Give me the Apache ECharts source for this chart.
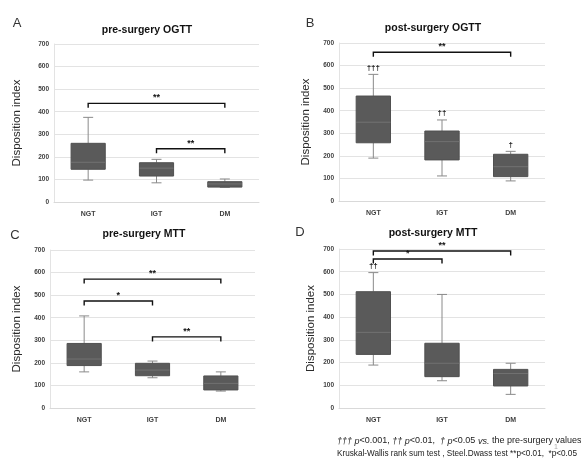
<!DOCTYPE html>
<html><head><meta charset="utf-8">
<script src="https://cdn.jsdelivr.net/npm/echarts@6/dist/echarts.min.js"></script>
<style>html,body{margin:0;padding:0;background:#fff}#c{width:581px;height:463px}</style>
</head><body><div id="c"></div>
<script>
// ---- data ----
var categories = ['NGT', 'IGT', 'DM'];
var yTicks = [0, 100, 200, 300, 400, 500, 600, 700];
// [min, Q1, median, Q3, max]
var preOGTT  = [[97,145,176,260,375],[85,115,150,174,189],[65,66,80,90,102]];
var postOGTT = [[190,258,349,465,561],[111,182,263,310,359],[89,108,152,207,220]];
var preMTT   = [[160,188,217,286,408],[134,143,168,198,208],[75,80,109,142,160]];
var postMTT  = [[189,236,333,512,596],[120,138,197,285,500],[60,97,152,170,197]];
// daggers above whiskers (vs. pre-surgery)
var preOGTTDaggers  = ['', '', ''];
var postOGTTDaggers = ['†††', '††', '†'];
var preMTTDaggers   = ['', '', ''];
var postMTTDaggers  = ['††', '', ''];
// significance brackets: [fromIndex, toIndex, value, label]
var preOGTTBrackets  = [[0,2,437,'**'],[1,2,236,'**']];
var postOGTTBrackets = [[0,2,659,'**']];
var preMTTBrackets   = [[0,2,571,'**'],[0,1,474,'*'],[1,2,315,'**']];
var postMTTBrackets  = [[0,2,691,'**'],[0,1,656,'*']];
var titles = ['pre-surgery OGTT','post-surgery OGTT','pre-surgery MTT','post-surgery MTT'];
var panelLetters = ['A','B','C','D'];
var yName = 'Disposition index';

// ---- layout ----
var panels = [
  {box: preOGTT,  dag: preOGTTDaggers,  br: preOGTTBrackets,  grid:{left:54, top:44, width:205, height:158}, gap:31},
  {box: postOGTT, dag: postOGTTDaggers, br: postOGTTBrackets, grid:{left:339,top:43, width:206, height:158}, gap:27},
  {box: preMTT,   dag: preMTTDaggers,   br: preMTTBrackets,   grid:{left:50, top:250,width:205, height:158}, gap:27},
  {box: postMTT,  dag: postMTTDaggers,  br: postMTTBrackets,  grid:{left:339,top:249,width:206, height:159}, gap:22}
];
var FONT = '"Liberation Sans", Arial, sans-serif';

var grids = [], xAxes = [], yAxes = [], series = [];
panels.forEach(function (p, i) {
  grids.push(p.grid);
  xAxes.push({
    type: 'category', data: categories, gridIndex: i,
    axisLine: {show: true, lineStyle: {color: '#d9d9d9'}},
    axisTick: {show: false},
    axisLabel: {fontSize: 7, fontWeight: 'bold', color: '#404040', margin: 9, fontFamily: FONT}
  });
  yAxes.push({
    type: 'value', gridIndex: i, min: 0, max: 700, interval: 100,
    axisLine: {show: true, lineStyle: {color: '#e3e3e3'}},
    axisTick: {show: false},
    splitLine: {lineStyle: {color: '#e3e3e3'}},
    axisLabel: {fontSize: 6.5, fontWeight: 'bold', color: '#404040', margin: 5, fontFamily: FONT,
      formatter: function (v) { return yTicks.indexOf(v) >= 0 ? String(v) : ''; }},
    name: yName, nameLocation: 'middle', nameGap: p.gap,
    nameTextStyle: {fontSize: 11.5, color: '#2a2a2a', fontFamily: FONT}
  });
  // boxes
  series.push({
    type: 'custom', xAxisIndex: i, yAxisIndex: i, clip: false,
    data: p.box.map(function (b, k) { return [k].concat(b); }),
    renderItem: function (params, api) {
      var k = api.value(0);
      var cx = api.coord([k, 0])[0];
      var w = api.size([1, 0])[0] * 0.5;
      var yMin = api.coord([k, api.value(1)])[1];
      var yQ1 = api.coord([k, api.value(2)])[1];
      var yMed = api.coord([k, api.value(3)])[1];
      var yQ3 = api.coord([k, api.value(4)])[1];
      var yMax = api.coord([k, api.value(5)])[1];
      var cap = 5;
      var wc = '#8a8a8a';
      var ch = [
        {type: 'line', shape: {x1: cx, y1: yQ3, x2: cx, y2: yMax}, style: {stroke: wc, lineWidth: 1}},
        {type: 'line', shape: {x1: cx - cap, y1: yMax, x2: cx + cap, y2: yMax}, style: {stroke: wc, lineWidth: 1}},
        {type: 'line', shape: {x1: cx, y1: yQ1, x2: cx, y2: yMin}, style: {stroke: wc, lineWidth: 1}},
        {type: 'line', shape: {x1: cx - cap, y1: yMin, x2: cx + cap, y2: yMin}, style: {stroke: wc, lineWidth: 1}},
        {type: 'rect', shape: {x: cx - w / 2, y: yQ3, width: w, height: yQ1 - yQ3}, style: {fill: '#5a5a5a', stroke: '#505050', lineWidth: 1}},
        {type: 'line', shape: {x1: cx - w / 2, y1: yMed, x2: cx + w / 2, y2: yMed}, style: {stroke: '#727272', lineWidth: 1}}
      ];
      return {type: 'group', children: ch};
    }
  });
  // daggers
  series.push({
    type: 'custom', xAxisIndex: i, yAxisIndex: i, clip: false,
    data: p.box.map(function (b, k) { return [k, b[4], p.dag[k]]; }),
    renderItem: function (params, api) {
      var pt = api.coord([api.value(0), api.value(1)]);
      var t = p.dag[params.dataIndex];
      if (!t) return null;
      return {type: 'text', x: pt[0], y: pt[1] - 3,
        style: {text: t, fill: '#222', font: 'bold 8px ' + FONT, textAlign: 'center', textVerticalAlign: 'bottom'}};
    }
  });
  // brackets
  series.push({
    type: 'custom', xAxisIndex: i, yAxisIndex: i, clip: false,
    data: p.br.map(function (b) { return [b[0], b[1], b[2]]; }),
    renderItem: function (params, api) {
      var a = api.coord([api.value(0), api.value(2)]);
      var b = api.coord([api.value(1), api.value(2)]);
      var drop = 4.5;
      var lbl = p.br[params.dataIndex][3];
      return {type: 'group', children: [
        {type: 'polyline', shape: {points: [[a[0], a[1] + drop], [a[0], a[1]], [b[0], b[1]], [b[0], b[1] + drop]]},
          style: {stroke: '#111', lineWidth: 1.4, fill: null}},
        {type: 'text', x: (a[0] + b[0]) / 2, y: a[1] - 1,
          style: {text: lbl, fill: '#111', font: 'bold 9px ' + FONT, textAlign: 'center', textVerticalAlign: 'bottom'}}
      ]};
    }
  });
});

var letterPos = [[17,23],[310,23],[15,235],[300,232]];
var titlePos = [[147,30],[433,28],[144,234],[433,233]];
var graphics = [];
for (var i = 0; i < 4; i++) {
  graphics.push({type: 'text', x: letterPos[i][0], y: letterPos[i][1],
    style: {text: panelLetters[i], fill: '#333', font: '13px ' + FONT, textAlign: 'center', textVerticalAlign: 'middle'}});
  graphics.push({type: 'text', x: titlePos[i][0], y: titlePos[i][1],
    style: {text: titles[i], fill: '#111', font: 'bold 10.5px ' + FONT, textAlign: 'center', textVerticalAlign: 'middle'}});
}
graphics.push({type: 'text', x: 337, y: 441,
  style: {text: '{i|††† p}<0.001, {i|†† p}<0.01,  {i|† p}<0.05 {i|vs.} the pre-surgery values',
    fill: '#222', font: '9px ' + FONT, textVerticalAlign: 'middle',
    rich: {i: {fontStyle: 'italic', fontSize: 9, fill: '#222', fontFamily: FONT}}}});
graphics.push({type: 'text', x: 556, y: 447,
  style: {text: '1', fill: '#aaa', font: '7px ' + FONT, textAlign: 'center', textVerticalAlign: 'middle'}});
graphics.push({type: 'text', x: 337, y: 454,
  style: {text: 'Kruskal-Wallis rank sum test , Steel.Dwass test **p<0.01,  *p<0.05',
    fill: '#222', font: '8.2px ' + FONT, textVerticalAlign: 'middle'}});

var chart = echarts.init(document.getElementById('c'));
chart.setOption({
  animation: false,
  backgroundColor: '#fff',
  grid: grids, xAxis: xAxes, yAxis: yAxes, series: series,
  graphic: graphics
});
</script></body></html>
